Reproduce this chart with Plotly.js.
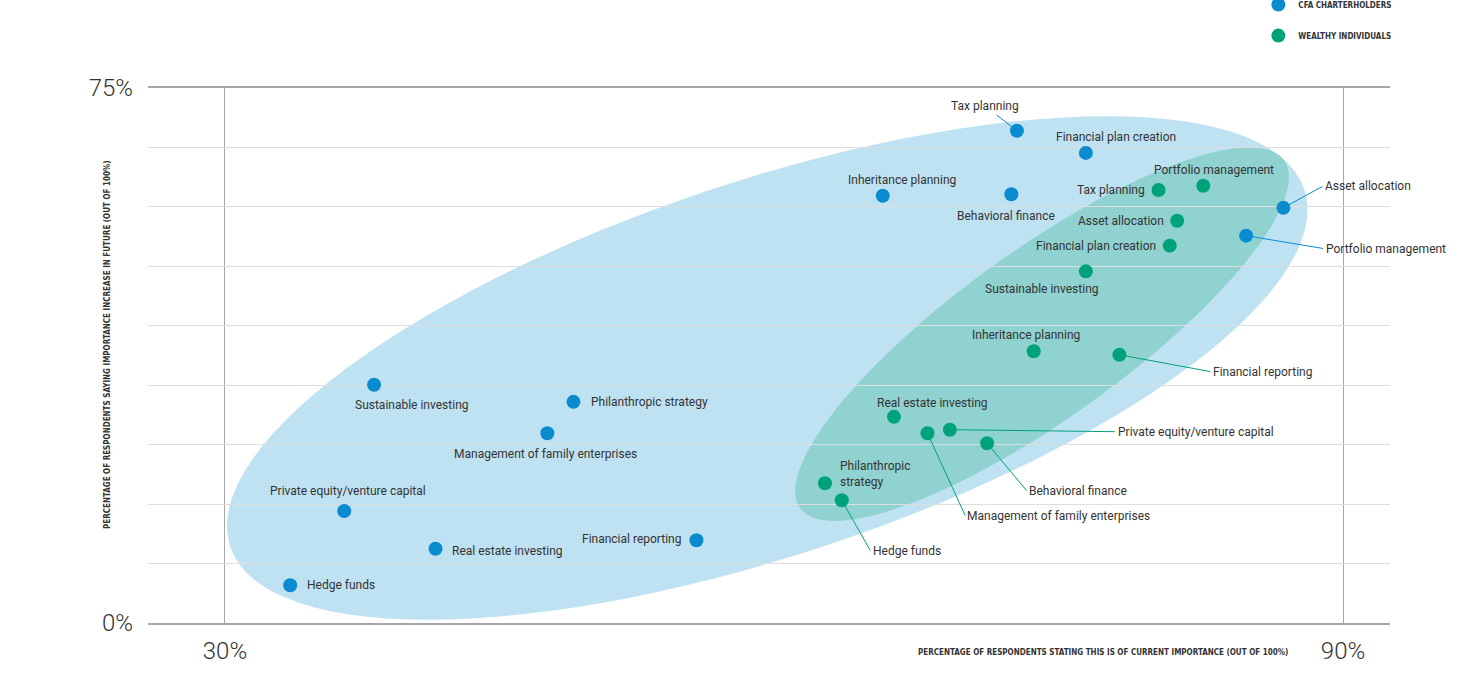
<!DOCTYPE html>
<html>
<head>
<meta charset="utf-8">
<script src="https://cdn.plot.ly/plotly-3.0.1.min.js"></script>
<style>
  html, body { margin: 0; padding: 0; background: #fff; }
  #chart { width: 1473px; height: 696px; }
</style>
</head>
<body>
<div id="chart"></div>
<script>
// values, in %
const categories = ['Tax planning', 'Financial plan creation', 'Inheritance planning', 'Behavioral finance',
    'Asset allocation', 'Portfolio management', 'Sustainable investing', 'Philanthropic strategy',
    'Management of family enterprises', 'Private equity/venture capital', 'Real estate investing',
    'Financial reporting', 'Hedge funds'];

// CFA charterholders
const cfaCurrent = [72.5, 76.2, 65.3, 72.2, 86.8, 84.8, 38.0, 48.7, 47.3, 36.4, 41.3, 55.3, 33.5];
const cfaFuture = [69.0, 65.9, 59.9, 60.1, 58.2, 54.3, 33.4, 31.0, 26.6, 15.7, 10.4, 11.6, 5.3];

// wealthy individuals
const wealthyCurrent = [80.1, 80.7, 73.4, 70.9, 81.1, 82.5, 76.2, 62.2, 67.7, 68.9, 65.9, 78.0, 63.1];
const wealthyFuture = [60.7, 52.9, 38.1, 25.2, 56.4, 61.3, 49.3, 19.6, 26.6, 27.1, 28.9, 37.6, 17.2];

const xTickVals = [30, 90];
const xTickText = ['30%', '90%'];
const yTickText = ['0%', '', '', '', '', '', '', '', '', '75%'];

const X_RANGE = [25.87, 92.52];
const Y_RANGE = [0, 75];
const MARGIN = { l: 148, r: 83, t: 88, b: 73, autoexpand: false };
const W = 1473, H = 696;

const BLUE = '#0a8bd0';
const GREEN = '#00a27a';
const TEXT = '#333333';
const LABEL_FONT = 'Roboto, "Open Sans", sans-serif';
const SMALL_CAPS_FONT = '"DejaVu Sans Condensed", "Liberation Sans Narrow", Roboto, sans-serif';

// label placement: [dx, dy, anchor, withLine] in pixels from the marker
const cfaLabels = [
    [-32, -25, 'center', true],
    [30, -16, 'center', false],
    [19, -16, 'center', false],
    [-5, 22, 'center', false],
    [40, -22, 'left', true],
    [78, 13, 'left', true],
    [38, 20, 'center', false],
    [16, 0, 'left', false],
    [-2, 21, 'center', false],
    [4, -20, 'center', false],
    [14, 2, 'left', false],
    [-13, -1, 'right', false],
    [15, 0, 'left', false]
];
const wealthyLabels = [
    [-12, 0, 'right', false],
    [-12, 0, 'right', false],
    [-8, -16, 'center', false],
    [40, 48, 'left', true],
    [-11, 0, 'right', false],
    [11, -16, 'center', false],
    [-44, 18, 'center', false],
    [13, -9, 'left', false],
    [38, 83, 'left', true],
    [166, 2, 'left', true],
    [39, -14, 'center', false],
    [92, 17, 'left', true],
    [29, 51, 'left', true]
];

const plotW = W - MARGIN.l - MARGIN.r;
const plotH = H - MARGIN.t - MARGIN.b;
const pxPerX = plotW / (X_RANGE[1] - X_RANGE[0]);
const pxPerY = plotH / (Y_RANGE[1] - Y_RANGE[0]);

// rotated ellipse (axes in screen pixels) turned into a data-space path
function ellipsePath(cx, cy, aPx, bPx, deg) {
    const th = deg * Math.PI / 180;
    const parts = [];
    for (let i = 0; i <= 120; i++) {
        const t = i / 120 * 2 * Math.PI;
        const dx = aPx * Math.cos(th) * Math.cos(t) - bPx * Math.sin(th) * Math.sin(t);
        const dy = aPx * Math.sin(th) * Math.cos(t) + bPx * Math.cos(th) * Math.sin(t);
        parts.push((i === 0 ? 'M' : 'L') + (cx + dx / pxPerX).toFixed(3) + ',' + (cy + dy / pxPerY).toFixed(3));
    }
    return parts.join(' ') + ' Z';
}

function makeLabels(xs, ys, placement, color) {
    return categories.map((name, i) => {
        const [dx, dy, anchor, withLine] = placement[i];
        const text = (name === 'Philanthropic strategy' && anchor === 'left' && dy !== 0)
            ? 'Philanthropic<br>strategy' : name;
        const base = {
            x: xs[i], y: ys[i], xref: 'x', yref: 'y',
            text: text, align: 'left',
            font: { family: LABEL_FONT, size: 12, color: TEXT },
            xanchor: anchor, yanchor: 'middle'
        };
        if (withLine) {
            return Object.assign(base, {
                showarrow: true, arrowhead: 0, arrowwidth: 1, arrowcolor: color,
                ax: dx, ay: dy, standoff: 6, startstandoff: 1
            });
        }
        return Object.assign(base, { showarrow: false, xshift: dx, yshift: -dy });
    });
}

const yTickVals = yTickText.map((_, i) => i * 75 / 9);

const traces = [
    {
        x: cfaCurrent, y: cfaFuture, text: categories,
        type: 'scatter', mode: 'markers', name: 'CFA CHARTERHOLDERS', legendgroup: 'cfa',
        marker: { color: BLUE, size: 14 },
        hovertemplate: '%{text}<br>%{x}% / %{y}%<extra></extra>'
    },
    {
        x: wealthyCurrent, y: wealthyFuture, text: categories,
        type: 'scatter', mode: 'markers', name: 'WEALTHY INDIVIDUALS', legendgroup: 'wealthy',
        marker: { color: GREEN, size: 14 },
        hovertemplate: '%{text}<br>%{x}% / %{y}%<extra></extra>'
    }
];

const layout = {
    width: W, height: H,
    margin: MARGIN,
    paper_bgcolor: '#fff', plot_bgcolor: 'rgba(0,0,0,0)',
    showlegend: true,
    legend: {
        x: 0.894, y: 1.183, xanchor: 'left', yanchor: 'top',
        font: { family: SMALL_CAPS_FONT, size: 8, color: TEXT, weight: 'bold' },
        tracegroupgap: 12, traceorder: 'grouped', bgcolor: 'rgba(0,0,0,0)'
    },
    xaxis: {
        range: X_RANGE, tickmode: 'array', tickvals: xTickVals, ticktext: xTickText,
        showgrid: true, gridcolor: '#a6a6a6', gridwidth: 1, zeroline: false,
        showline: true, mirror: true, linecolor: '#a6a6a6', linewidth: 1.5,
        ticks: '', ticklabelstandoff: 5,
        tickfont: { family: LABEL_FONT, size: 24, color: TEXT, weight: 300 },
        fixedrange: true
    },
    yaxis: {
        range: Y_RANGE, tickmode: 'array', tickvals: yTickVals, ticktext: yTickText,
        showgrid: true, gridcolor: '#dedede', gridwidth: 1, zeroline: false,
        showline: false, ticks: '', ticklabelstandoff: 14,
        tickfont: { family: LABEL_FONT, size: 24, color: TEXT, weight: 300 },
        fixedrange: true
    },
    shapes: [
        { type: 'path', layer: 'below', xref: 'x', yref: 'y',
          path: ellipsePath(59.1, 35.75, 566, 187, 18.4),
          fillcolor: '#bfe2f2', line: { width: 0 } },
        { type: 'path', layer: 'below', xref: 'x', yref: 'y',
          path: ellipsePath(73.85, 40.5, 298, 84, 35.7),
          fillcolor: 'rgba(0,162,102,0.25)', line: { width: 0 } }
    ],
    annotations: [
        ...makeLabels(cfaCurrent, cfaFuture, cfaLabels, BLUE),
        ...makeLabels(wealthyCurrent, wealthyFuture, wealthyLabels, GREEN),
        {
            text: 'PERCENTAGE OF RESPONDENTS SAYING IMPORTANCE INCREASE IN FUTURE (OUT OF 100%)',
            xref: 'paper', yref: 'paper', x: -0.032, y: 0.52, textangle: -90,
            showarrow: false, xanchor: 'center', yanchor: 'middle',
            font: { family: SMALL_CAPS_FONT, size: 8, color: TEXT, weight: 'bold' }
        },
        {
            text: 'PERCENTAGE OF RESPONDENTS STATING THIS IS OF CURRENT IMPORTANCE (OUT OF 100%)',
            xref: 'paper', yref: 'paper', x: 0.769, y: -0.056,
            showarrow: false, xanchor: 'center', yanchor: 'middle',
            font: { family: SMALL_CAPS_FONT, size: 8, color: TEXT, weight: 'bold' }
        }
    ]
};

Plotly.newPlot('chart', traces, layout, { displayModeBar: false, staticPlot: false });
</script>
</body>
</html>
